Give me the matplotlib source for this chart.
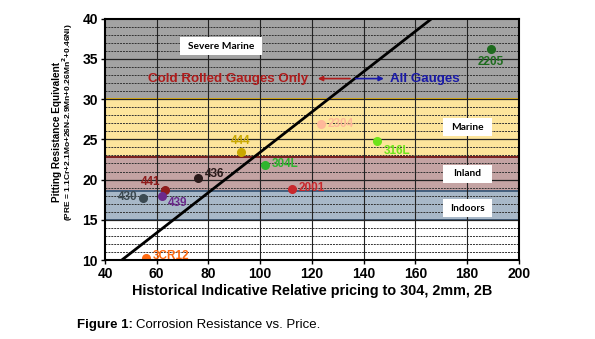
#!/usr/bin/env python3
"""Corrosion resistance (PRE) vs relative price for stainless grades."""

import matplotlib
matplotlib.use("Agg")
import matplotlib.pyplot as plt
from matplotlib.patches import Rectangle
import numpy as np

plt.rcParams['font.family'] = ['Liberation Sans', 'DejaVu Sans']

# grades, relative price to 304 and PRE
grades = ["2205", "2304", "316L", "444", "304L", "436", "441", "439", "430", "3CR12", "2001"]
price = [189.2, 123.4, 145.0, 92.6, 101.8, 75.8, 63.2, 62.1, 54.8, 55.7, 112.3]
pre = [36.2, 26.9, 24.8, 23.4, 21.8, 20.2, 18.7, 17.9, 17.7, 10.3, 18.8]
colors = ["#1e6b1e", "#ffb89a", "#6fe31a", "#c9a800", "#2eb52e", "#2a1a1a",
          "#8e1c1c", "#6b2a8c", "#3c4a52", "#ff6a10", "#c8282c"]
# label offsets in points (dx, dy) and alignment
label_pos = [(0, -9, 'center'), (5, 0, 'left'), (5, -7, 'left'), (0, 8, 'center'),
             (5, 1, 'left'), (5, 3, 'left'), (-3, 6, 'right'), (4, -5, 'left'),
             (-4, 1, 'right'), (5, 1, 'left'), (5, 1, 'left')]

# exposure bands: (low, high, face, edge)
bands = [
    (30, 40, "#a3a3a3", "#000000"),
    (22.8, 30, "#fde59c", "#e9b612"),
    (18.6, 22.8, "#c4a3a3", "#7a1f1f"),
    (15, 18.6, "#a8b8c8", "#44607f"),
]
band_names = ["Severe Marine", "Marine", "Inland", "Indoors"]
# label box extents (x0, x1) and centre y, in data units
box_x = [(69.0, 100.7), (170.6, 189.6), (170.6, 189.6), (170.6, 189.6)]
box_y = [36.6, 26.5, 20.7, 16.45]

# price/performance boundary line
line_x = [46.5, 166.3]
line_y = [10, 40]

fig = plt.figure(figsize=(5.95, 3.39), dpi=100)
ax = fig.add_axes([0.1765, 0.233, 0.6955, 0.712])
ax.set_xlim(40, 200)
ax.set_ylim(10, 40)

for lo, hi, fc, ec in bands:
    ax.axhspan(lo, hi, facecolor=fc, edgecolor=ec, lw=1.4, zorder=0)
for name, (x0, x1), yc in zip(band_names, box_x, box_y):
    ax.add_patch(Rectangle((x0, yc - 1.1), x1 - x0, 2.2, facecolor='white',
                           edgecolor='none', zorder=6))
    ax.text((x0 + x1) / 2, yc, name, ha='center', va='center', fontsize=7.3,
            fontweight='bold', family=['Lato', 'DejaVu Sans'], zorder=7)

# grid: dashed every unit, vertical solid every 20
for yv in np.arange(11, 40):
    if yv % 5 != 0:
        ax.axhline(yv, color='#333333', lw=0.7, ls=(0, (2, 1)), zorder=1)
    else:
        ax.axhline(yv, color='#222222', lw=0.9, zorder=1)
for xv in range(60, 200, 20):
    ax.axvline(xv, color='#222222', lw=0.8, zorder=1)

ax.plot(line_x, line_y, color='black', lw=2, zorder=3)

for g, px, py, c, (dx, dy, ha) in zip(grades, price, pre, colors, label_pos):
    ax.plot(px, py, 'o', color=c, ms=5.5, zorder=5)
    ax.annotate(g, (px, py), xytext=(dx, dy), textcoords='offset points',
                ha=ha, va='center', fontsize=8.5, fontweight='bold', color=c, zorder=5)

# gauge annotation
ax.text(118.5, 32.55, "Cold Rolled Gauges Only", ha='right', va='center', fontsize=9.6,
        fontweight='bold', color='#b01c1c', zorder=6)
ax.annotate("", xy=(121.2, 32.55), xytext=(135.8, 32.55),
            arrowprops=dict(arrowstyle='-|>', color='#b01c1c', lw=1.2, mutation_scale=7), zorder=6)
ax.annotate("", xy=(148.9, 32.55), xytext=(135.8, 32.55),
            arrowprops=dict(arrowstyle='-|>', color='#1a1aa8', lw=1.2, mutation_scale=7), zorder=6)
ax.text(150.1, 32.55, "All Gauges", ha='left', va='center', fontsize=9.6,
        fontweight='bold', color='#1a1aa8', zorder=6)

for s in ax.spines.values():
    s.set_linewidth(1.5)
    s.set_zorder(8)

ax.set_xticks(range(40, 201, 20))
ax.set_yticks(range(10, 41, 5))
ax.tick_params(labelsize=10, width=1, length=3, pad=2)
for lbl in ax.get_xticklabels() + ax.get_yticklabels():
    lbl.set_fontweight('bold')

ax.set_xlabel("Historical Indicative Relative pricing to 304, 2mm, 2B",
              fontsize=10.4, fontweight='bold', labelpad=2)
fig.text(0.096, 0.61, "Pitting Resistance Equivalent", rotation=90, ha='center',
         va='center', fontsize=7.2, fontweight='bold')
fig.text(0.114, 0.64, "(PRE = 1.1Cr+2.1Mo+26N-2.9Mn+0.26Mn$^\\mathbf{2}$+0.46Ni)", rotation=90,
         ha='center', va='center', fontsize=6.0, fontweight='bold')

# caption: bold prefix followed by regular text
cap1 = fig.text(0.129, 0.041, "Figure 1:", fontsize=9.5, fontweight='bold', va='center')
fig.canvas.draw()
bb = cap1.get_window_extent(renderer=fig.canvas.get_renderer())
fig.text(bb.x1 / fig.bbox.width + 0.005, 0.041, "Corrosion Resistance vs. Price.",
         fontsize=9.5, va='center')

fig.savefig("out.png", dpi=100)
